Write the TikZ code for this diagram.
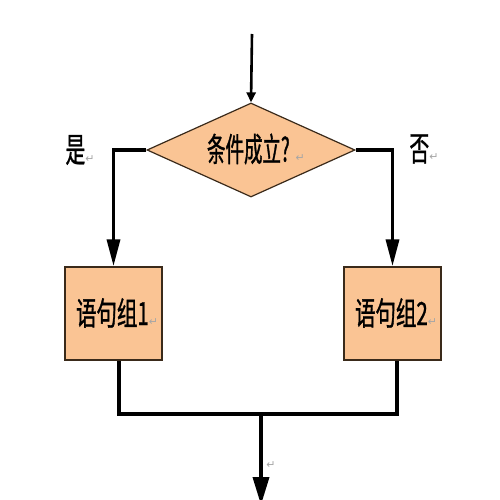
\documentclass[tikz,border=0pt]{standalone}
\usepackage{fontspec}
\usetikzlibrary{shapes.geometric,arrows.meta}
\newfontfamily\cjkd[FakeStretch=0.56,FakeBold=1]{Noto Sans CJK SC}
\newfontfamily\cjk[FakeStretch=0.64,FakeBold=1]{Noto Sans CJK SC}
\newfontfamily\cjkl[FakeStretch=0.58,FakeBold=0.8]{Noto Sans CJK SC}
\newfontfamily\symf{DejaVu Sans}
\definecolor{boxfill}{HTML}{FAC494}
\definecolor{edge}{HTML}{3A2A1A}
\newcommand{\pmark}{{\symf\color{gray!70}\fontsize{11}{11}\selectfont ↵}}
\tikzset{
  flow/.style={line width=3.6pt, line cap=butt},
  condshape/.style={diamond, draw=edge, line width=1.2pt, fill=boxfill,
    minimum width=208pt, minimum height=94pt, inner sep=0pt, aspect=2.2},
  stmtbox/.style={rectangle, draw=edge, line width=1.5pt, fill=boxfill,
    minimum width=97pt, minimum height=93pt, inner sep=0pt},
  lbl/.style={inner sep=0pt, text=black},
  bigtip/.style={-{Triangle[length=27pt,width=13pt]}},
  endtip/.style={-{Triangle[length=28pt,width=16pt]}},
  toptip/.style={-{Triangle[length=10pt,width=9pt]}}
}
\begin{document}
\begin{tikzpicture}[x=1pt,y=-1pt]
\useasboundingbox[fill=white] (0,0) rectangle (500,500);
\node[condshape] (cond) at (251,150) {};
\node[lbl] (condtxt) at (256,149) {\cjkd\fontsize{33}{33}\selectfont 条件成立?\hspace{6pt}\pmark};
\node[stmtbox] (box1) at (113.5,313.5) {};
\node[lbl] (t1) at (117,313) {\cjk\fontsize{32}{32}\selectfont 语句组1\pmark};
\node[stmtbox] (box2) at (392.5,313.5) {};
\node[lbl] (t2) at (396,313) {\cjk\fontsize{32}{32}\selectfont 语句组2\pmark};
\node[lbl] (yes) at (80,150) {\cjkl\fontsize{34}{34}\selectfont 是\pmark};
\node[lbl] (no) at (424,149) {\cjkl\fontsize{34}{34}\selectfont 否\pmark};
\node[lbl] (pm) at (271,465) {\pmark};
\coordinate (top) at (252,34);
\coordinate (jl) at (119,414);
\coordinate (jr) at (397,414);
\coordinate (m) at (261,414);
\coordinate (end) at (261,505);
\draw[line width=2.6pt, toptip] (top) -- (cond.north);
\draw[flow, bigtip] (cond.west) -| (box1.north);
\draw[flow, bigtip] (cond.east) -| (box2.north);
\draw[flow, line join=miter] (box1.south -| jl) -- (jl) -- (jr) -- (box2.south -| jr);
\draw[flow, endtip] (m) -- (end);
\end{tikzpicture}
\end{document}
